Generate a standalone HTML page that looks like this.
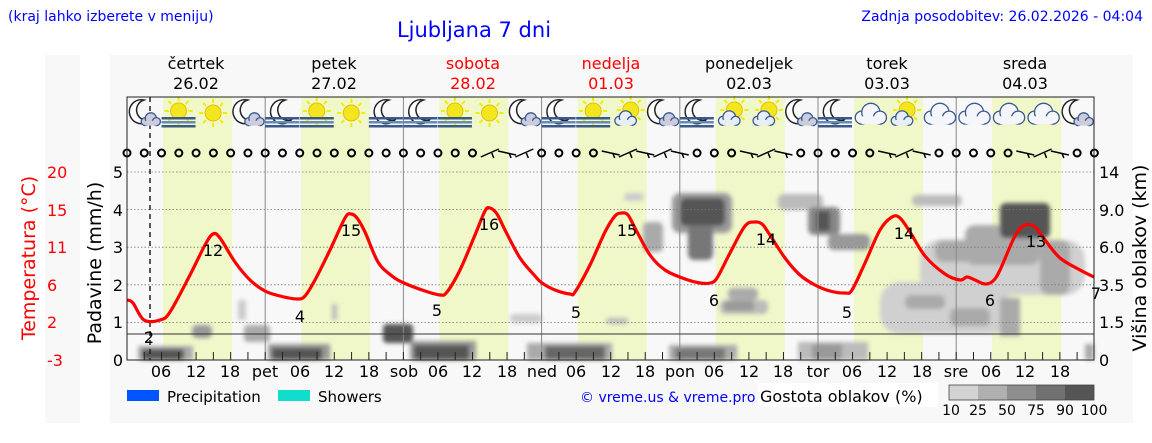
<!DOCTYPE html>
<html><head><meta charset="utf-8">
<style>
html,body{margin:0;padding:0;background:#fff;}
svg{display:block;font-family:"DejaVu Sans","Liberation Sans",sans-serif;}
</style></head>
<body>
<svg id="s" width="1152" height="443" viewBox="0 0 1152 443" xmlns="http://www.w3.org/2000/svg">
<defs>
<filter id="bl" x="-20%" y="-20%" width="140%" height="140%"><feGaussianBlur stdDeviation="2"/></filter>
</defs>
<rect x="0" y="0" width="1152" height="443" fill="#fff"/>
<rect x="45" y="55" width="35" height="368" fill="#f8f8f8"/>
<rect x="110" y="55" width="1023" height="368" fill="#f8f8f8"/>
<g id="bands"></g>
<g id="clouds" filter="url(#bl)">
  <rect x="138" y="346" width="55" height="14" fill="#aaa"/>
  <rect x="142" y="349" width="42" height="11" fill="#555"/>
  <rect x="192" y="325" width="20" height="13" rx="5" fill="#999"/>
  <rect x="244" y="325" width="26" height="17" rx="4" fill="#aaa"/>
  <rect x="238" y="300" width="8" height="20" fill="#ccc"/>
  <rect x="332" y="304" width="5" height="16" fill="#bbb"/>
  <rect x="268" y="344" width="62" height="16" fill="#999"/>
  <rect x="272" y="348" width="50" height="12" fill="#555"/>
  <rect x="383" y="324" width="30" height="19" rx="4" fill="#555"/>
  <rect x="410" y="341" width="66" height="19" fill="#999"/>
  <rect x="414" y="345" width="55" height="15" fill="#555"/>
  <rect x="527" y="343" width="85" height="17" fill="#aaa"/>
  <rect x="545" y="346" width="60" height="14" fill="#666"/>
  <rect x="669" y="345" width="68" height="15" fill="#aaa"/>
  <rect x="675" y="348" width="50" height="12" fill="#777"/>
  <rect x="798" y="342" width="70" height="18" fill="#bbb"/>
  <rect x="812" y="344" width="30" height="16" fill="#999"/>
  <rect x="1085" y="344" width="9" height="16" fill="#aaa"/>
  <rect x="510" y="314" width="32" height="9" rx="4" fill="#ccc"/>
  <rect x="606" y="318" width="22" height="6" rx="3" fill="#bbb"/>
  <rect x="624" y="193" width="20" height="8" rx="4" fill="#ccc"/>
  <rect x="643" y="222" width="20" height="30" rx="5" fill="#aaa"/>
  <rect x="672" y="193" width="60" height="40" rx="8" fill="#999"/>
  <rect x="680" y="198" width="45" height="28" rx="6" fill="#555"/>
  <rect x="688" y="225" width="25" height="35" rx="6" fill="#777"/>
  <rect x="728" y="288" width="30" height="12" rx="5" fill="#aaa"/>
  <rect x="720" y="300" width="48" height="14" rx="5" fill="#bbb"/>
  <rect x="724" y="301" width="30" height="10" rx="4" fill="#999"/>
  <rect x="778" y="194" width="45" height="16" rx="6" fill="#bbb"/>
  <rect x="808" y="207" width="32" height="28" rx="6" fill="#888"/>
  <rect x="816" y="211" width="14" height="20" fill="#555"/>
  <rect x="828" y="234" width="42" height="16" rx="6" fill="#999"/>
  <rect x="912" y="195" width="50" height="11" rx="5" fill="#bbb"/>
  <rect x="920" y="240" width="165" height="55" rx="20" fill="#d0d0d0"/>
  <rect x="880" y="282" width="130" height="52" rx="20" fill="#d0d0d0"/>
  <rect x="905" y="295" width="40" height="14" rx="6" fill="#aaa"/>
  <rect x="950" y="308" width="40" height="18" rx="6" fill="#aaa"/>
  <rect x="935" y="240" width="60" height="22" rx="8" fill="#aaa"/>
  <rect x="965" y="225" width="75" height="40" rx="10" fill="#aaa"/>
  <rect x="1000" y="203" width="50" height="35" rx="6" fill="#555"/>
  <rect x="1040" y="240" width="30" height="55" rx="10" fill="#aaa"/>
  <rect x="1000" y="298" width="20" height="38" fill="#aaa"/>
</g>
<g id="grid" stroke="#777" stroke-width="0.8" stroke-dasharray="1.5,2">
  <line x1="127" y1="172" x2="1094" y2="172"/>
  <line x1="127" y1="209.6" x2="1094" y2="209.6"/>
  <line x1="127" y1="247.2" x2="1094" y2="247.2"/>
  <line x1="127" y1="284.8" x2="1094" y2="284.8"/>
  <line x1="127" y1="322.4" x2="1094" y2="322.4"/>
</g>
<g id="days" stroke="#888" stroke-width="1"></g>
<line x1="127" y1="334" x2="1094" y2="334" stroke="#333" stroke-width="1"/>
<line x1="150" y1="97" x2="150" y2="360" stroke="#222" stroke-width="1.5" stroke-dasharray="5,4"/>
<g id="ticks" stroke="#222" stroke-width="1"></g>
<g id="icons"></g>
<g id="wind" fill="none" stroke="#000" stroke-width="2"></g>
<path id="temp" fill="none" stroke="#f00" stroke-width="3.2" stroke-linejoin="round"/>
<rect x="127" y="97" width="967" height="263" fill="none" stroke="#222" stroke-width="1"/>

<g font-size="16" fill="#000" text-anchor="middle">
<text x="149" y="343">2</text><text x="213" y="256">12</text><text x="300" y="322">4</text>
<text x="351" y="236">15</text><text x="437" y="316">5</text><text x="489" y="230">16</text>
<text x="576" y="318">5</text><text x="627" y="236">15</text><text x="714" y="306">6</text>
<text x="766" y="245">14</text><text x="847" y="318">5</text><text x="904" y="239">14</text>
<text x="990" y="306">6</text><text x="1036" y="247">13</text><text x="1096" y="299">7</text>
</g>

<text x="8" y="21" font-size="14" fill="#00f">(kraj lahko izberete v meniju)</text>
<text x="474" y="37" font-size="21" fill="#00f" text-anchor="middle">Ljubljana 7 dni</text>
<text x="1143" y="21" font-size="14" fill="#00f" text-anchor="end">Zadnja posodobitev: 26.02.2026 - 04:04</text>

<g font-size="16" text-anchor="middle">
<text x="196" y="69">četrtek</text><text x="196" y="89">26.02</text>
<text x="334" y="69">petek</text><text x="334" y="89">27.02</text>
<text x="473" y="69" fill="#f00">sobota</text><text x="473" y="89" fill="#f00">28.02</text>
<text x="611" y="69" fill="#f00">nedelja</text><text x="611" y="89" fill="#f00">01.03</text>
<text x="749" y="69">ponedeljek</text><text x="749" y="89">02.03</text>
<text x="887" y="69">torek</text><text x="887" y="89">03.03</text>
<text x="1025" y="69">sreda</text><text x="1025" y="89">04.03</text>
</g>

<g font-size="16" fill="#f00">
<text x="47" y="178">20</text><text x="47" y="216">15</text><text x="47" y="253">11</text>
<text x="47" y="291">6</text><text x="47" y="328">2</text><text x="47" y="366">-3</text>
</g>
<text transform="translate(35,258) rotate(-90)" font-size="19" fill="#f00" text-anchor="middle">Temperatura (°C)</text>
<text transform="translate(101,263) rotate(-90)" font-size="19" fill="#000" text-anchor="middle">Padavine (mm/h)</text>
<g font-size="16" fill="#000" text-anchor="end">
<text x="123" y="178">5</text><text x="123" y="216">4</text><text x="123" y="253">3</text>
<text x="123" y="291">2</text><text x="123" y="328">1</text><text x="123" y="366">0</text>
</g>
<g font-size="16" fill="#000">
<text x="1099" y="178">14</text><text x="1099" y="216">9.0</text><text x="1099" y="253">6.0</text>
<text x="1099" y="291">3.5</text><text x="1099" y="328">1.5</text><text x="1099" y="366">0</text>
</g>
<text transform="translate(1146,258) rotate(-90)" font-size="19" fill="#000" text-anchor="middle">Višina oblakov (km)</text>

<g font-size="16" fill="#000" text-anchor="middle">
<text x="161" y="377">06</text><text x="196" y="377">12</text><text x="230" y="377">18</text>
<text x="265" y="377">pet</text><text x="300" y="377">06</text><text x="334" y="377">12</text><text x="369" y="377">18</text>
<text x="404" y="377">sob</text><text x="438" y="377">06</text><text x="472" y="377">12</text><text x="507" y="377">18</text>
<text x="542" y="377">ned</text><text x="576" y="377">06</text><text x="611" y="377">12</text><text x="645" y="377">18</text>
<text x="680" y="377">pon</text><text x="714" y="377">06</text><text x="749" y="377">12</text><text x="783" y="377">18</text>
<text x="818" y="377">tor</text><text x="852" y="377">06</text><text x="887" y="377">12</text><text x="922" y="377">18</text>
<text x="956" y="377">sre</text><text x="991" y="377">06</text><text x="1025" y="377">12</text><text x="1060" y="377">18</text>
</g>

<rect x="127" y="390" width="32" height="11" fill="#0055ff"/>
<text x="167" y="402" font-size="15">Precipitation</text>
<rect x="278" y="390" width="32" height="11" fill="#11ddcc"/>
<text x="318" y="402" font-size="15">Showers</text>
<text x="580" y="402" font-size="14" fill="#00f">© vreme.us &amp; vreme.pro</text>
<rect x="758" y="383" width="180" height="24" fill="#fff"/>
<text x="760" y="402" font-size="16">Gostota oblakov (%)</text>
<rect x="949" y="385" width="29" height="15" fill="#d3d3d3"/>
<rect x="978" y="385" width="29" height="15" fill="#b0b0b0"/>
<rect x="1007" y="385" width="29" height="15" fill="#8e8e8e"/>
<rect x="1036" y="385" width="29" height="15" fill="#717171"/>
<rect x="1065" y="385" width="29" height="15" fill="#555"/>
<rect x="949" y="385" width="145" height="15" fill="none" stroke="#444" stroke-width="0.8"/>
<g font-size="14" text-anchor="middle">
<text x="951" y="415">10</text><text x="978" y="415">25</text><text x="1007" y="415">50</text>
<text x="1036" y="415">75</text><text x="1065" y="415">90</text><text x="1094" y="415">100</text>
</g>
</svg>
<script>
var NS="http://www.w3.org/2000/svg";
function el(p,t,a){var e=document.createElementNS(NS,t);for(var k in a)e.setAttribute(k,a[k]);document.getElementById(p).appendChild(e);return e;}
var D=138.2,X0=127;
for(var d=0;d<7;d++){var x=X0+d*D;el("bands","rect",{x:x+36,y:97,width:69,height:263,fill:"#f0f7c8"});
 if(d>0)el("days","line",{x1:x,y1:97,x2:x,y2:360});}
for(var i=1;i<56;i++){var x=X0+i*D/8;el("ticks","line",{x1:x,y1:352,x2:x,y2:360});}
var seq=["mc","sf","s","mc","mf","sf","s","mf","mf","sf","s","mc","mf","sf","sc","mc","mf","sc","sc","mc","mf","c","sc","c","c","c","c","mc"];
function moon(cx,cy){el("icons","path",{d:"M"+(cx+3)+","+(cy-13)+" a12,12 0 1,0 6,20 a10,10 0 0,1 -6,-20z",fill:"#fff",stroke:"#222","stroke-width":1.5});}
function sun(cx,cy,r){for(var a=0;a<8;a++){var t=a*Math.PI/4;el("icons","line",{x1:cx+Math.cos(t)*(r+2),y1:cy+Math.sin(t)*(r+2),x2:cx+Math.cos(t)*(r+6),y2:cy+Math.sin(t)*(r+6),stroke:"#ee0","stroke-width":2});}
 el("icons","circle",{cx:cx,cy:cy,r:r,fill:"#f3e61e",stroke:"#e8c000","stroke-width":1});}
function cloud(cx,cy,s,fill){var g={fill:fill,stroke:"#3a5a90","stroke-width":1.3};
 el("icons","circle",Object.assign({cx:cx-6*s,cy:cy+2*s,r:5*s},g));el("icons","circle",Object.assign({cx:cx+1*s,cy:cy-2*s,r:7*s},g));
 el("icons","circle",Object.assign({cx:cx+8*s,cy:cy+2*s,r:5*s},g));el("icons","rect",{x:cx-6*s,y:cy+1*s,width:14*s,height:6*s,fill:fill});}
function fog(cx,cy){for(var k=0;k<3;k++)el("icons","rect",{x:cx-17,y:cy+4+k*4,width:34,height:2.5,fill:k==1?"#6a8ab8":"#3a5a8a"});}
for(var i=0;i<28;i++){var cx=X0+i*D/4+17,cy=113,t=seq[i];
 if(t=="mc"){moon(cx-3,cy);cloud(cx+6,cy+7,0.8,"#ccd");}
 else if(t=="mf"){moon(cx,cy);fog(cx,cy);}
 else if(t=="sf"){sun(cx,cy-2,8);fog(cx,cy);}
 else if(t=="s"){sun(cx,cy,8);}
 else if(t=="sc"){sun(cx+3,cy-3,8);cloud(cx-3,cy+6,0.9,"#e8eef8");}
 else if(t=="c"){cloud(cx,cy+2,1.3,"#f4f6fb");}}
var barb={21:1,22:1,23:1,28:1,29:1,30:1,31:1,32:1,36:1,37:1,38:1,44:1,45:1,46:1,52:1,53:1,54:1};
for(var i=0;i<57;i++){var x=X0+i*D/8,y=153;
 if(barb[i]){el("wind","line",{x1:x-9,y1:y+(i%2?4:-2),x2:x+9,y2:y-(i%2?4:-2),"stroke-width":1.5});el("wind","line",{x1:x+2,y1:y,x2:x+4,y2:y+5,"stroke-width":1.5});}
 else el("wind","circle",{cx:x,cy:y,r:3.5});}
var P=[[127,300],[133,303],[144,320],[160,320],[170,312],[190,275],[205,245],[213,234],[220,238],[235,262],[250,280],[265,291],[280,296],[297,299],[305,296],[315,280],[330,250],[345,218],[351,214],[357,218],[365,232],[378,262],[392,276],[404,283],[425,291],[440,295],[447,292],[460,270],[475,235],[485,211],[490,208],[497,214],[505,230],[520,258],[535,276],[542,283],[555,290],[570,294],[575,292],[590,265],[605,232],[615,216],[622,213],[628,215],[635,228],[650,255],[665,270],[685,279],[700,283],[710,283],[717,278],[730,253],[745,226],[755,222],[762,224],[768,232],[785,258],[800,275],[815,285],[830,291],[845,293],[852,290],[865,263],[880,230],[892,217],[900,218],[910,232],[925,256],[945,274],[960,280],[967,277],[975,280],[985,284],[993,281],[1000,270],[1015,236],[1025,225],[1035,227],[1045,240],[1060,258],[1080,270],[1094,277]];
var d="M"+P[0].join(",");
for(var i=0;i<P.length-1;i++){var p0=P[Math.max(0,i-1)],p1=P[i],p2=P[i+1],p3=P[Math.min(P.length-1,i+2)];
 var c1=[p1[0]+(p2[0]-p0[0])/6,p1[1]+(p2[1]-p0[1])/6],c2=[p2[0]-(p3[0]-p1[0])/6,p2[1]-(p3[1]-p1[1])/6];
 d+=" C"+c1.join(",")+" "+c2.join(",")+" "+p2.join(",");}
document.getElementById("temp").setAttribute("d",d);
</script>
</body></html>
